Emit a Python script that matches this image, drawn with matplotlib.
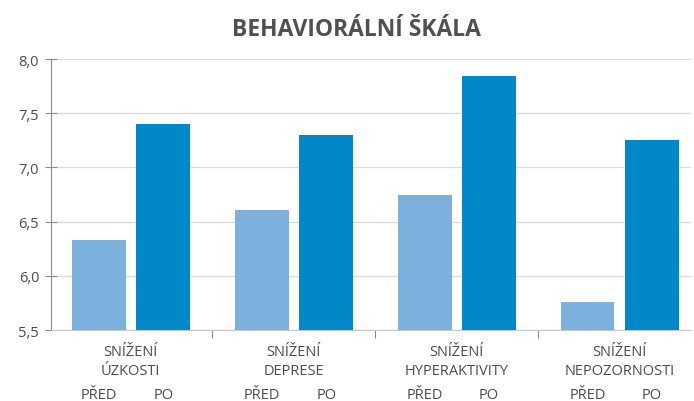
import numpy as np
import matplotlib.pyplot as plt
import matplotlib.transforms as mtransforms

plt.rcParams["font.family"] = ["Open Sans", "DejaVu Sans"]

# ── DATA ──────────────────────────────────────────────────────────────────────
groups = ["SNÍŽENÍ\nÚZKOSTI", "SNÍŽENÍ\nDEPRESE", "SNÍŽENÍ\nHYPERAKTIVITY", "SNÍŽENÍ\nNEPOZORNOSTI"]
pred = [6.33, 6.61, 6.75, 5.76]
po = [7.40, 7.30, 7.84, 7.25]
yticks = [5.5, 6.0, 6.5, 7.0, 7.5, 8.0]

C_PRED = "#7DB1DD"
C_PO = "#0088C8"
TXT = "#4d4d4d"
AXC = "#8c8c8c"

fig = plt.figure(figsize=(6.94, 4.02), dpi=100)
ax = fig.add_axes([51 / 694, 71 / 402, 640 / 694, 271 / 402])

x = np.arange(len(groups))
w = 0.33
ax.bar(x - 0.195, np.array(pred) - 5.5, bottom=5.5, width=w, color=C_PRED, zorder=3)
ax.bar(x + 0.2, np.array(po) - 5.5, bottom=5.5, width=w, color=C_PO, zorder=3)

ax.set_xlim(-0.49, 3.44)
ax.set_ylim(5.5, 8.0)
ax.set_yticks(yticks)
ax.set_yticklabels([f"{v:.1f}".replace(".", ",") for v in yticks], color=TXT, fontsize=10.5)
ax.yaxis.grid(True, color="#dcdcdc", linewidth=1, zorder=0)
ax.tick_params(axis="y", direction="inout", length=9, color=AXC, pad=4)

# group separators on the bottom axis
ax.set_xticks([0.5, 1.5, 2.5])
ax.set_xticklabels([])
ax.tick_params(axis="x", direction="out", length=6, color=AXC)

for s in ["top", "right"]:
    ax.spines[s].set_visible(False)
ax.spines["bottom"].set_color("#c8c8c8")
ax.spines["left"].set_color(AXC)

trans = mtransforms.blended_transform_factory(ax.transData, ax.transAxes)
for i, g in enumerate(groups):
    ax.text(i, -0.05, g, transform=trans, ha="center", va="top",
            fontsize=10.5, color=TXT, linespacing=1.4)
    ax.text(i - 0.195, -0.21, "PŘED", transform=trans, ha="center", va="top",
            fontsize=10.5, color=TXT)
    ax.text(i + 0.2, -0.21, "PO", transform=trans, ha="center", va="top",
            fontsize=10.5, color=TXT)

fig.text(356 / 694, 1 - 30 / 402, "BEHAVIORÁLNÍ ŠKÁLA", ha="center", va="center",
         fontsize=16.5, fontweight="bold", color="#505050")

fig.savefig("out.png", dpi=100, facecolor="white")
